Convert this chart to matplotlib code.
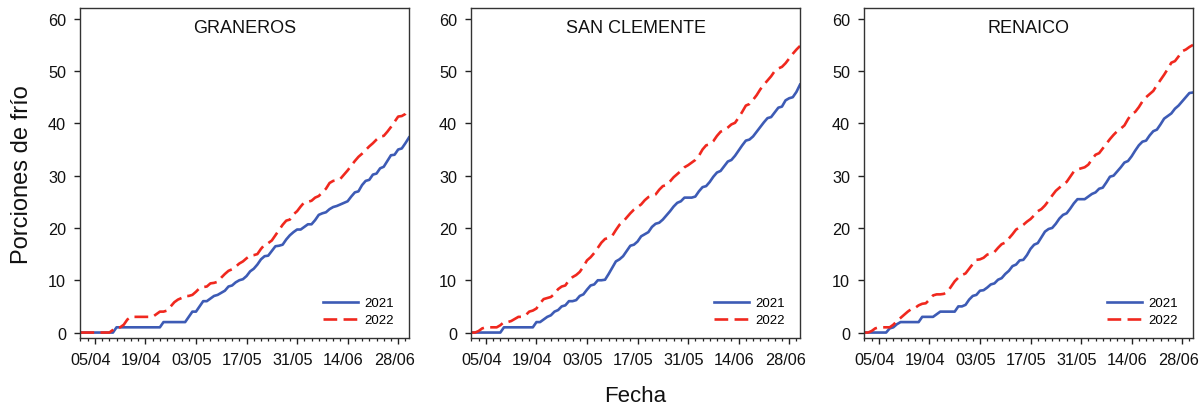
import matplotlib
matplotlib.use("Agg")
import matplotlib.pyplot as plt
import matplotlib.dates as mdates
import matplotlib.transforms as mtransforms
import pandas as pd

plt.rcParams['font.family'] = ['Liberation Sans', 'DejaVu Sans']

dates = pd.date_range('2022-04-01', '2022-07-01', freq='D')
stations = ['GRANEROS', 'SAN CLEMENTE', 'RENAICO']
years = ['2021', '2022']

graneros_2021 = [0]*10 + [1]*13 + [2]*7 + [
    3, 4, 4, 5, 6, 6, 6.5, 7, 7.2, 7.6, 8, 8.8, 9, 9.6, 10, 10.2, 10.8, 11.7, 12.2, 13,
    14, 14.6, 14.7, 15.6, 16.5, 16.6, 16.8, 17.8, 18.6, 19.2, 19.7, 19.7, 20.2, 20.7, 20.7,
    21.5, 22.5, 22.8, 23, 23.6, 24, 24.2, 24.5, 24.8, 25.1, 26, 26.8, 27, 28.2, 29, 29.2,
    30.2, 30.4, 31.4, 31.7, 32.8, 33.9, 34, 35, 35.2, 36.2, 37.3]
graneros_2022 = [0]*9 + [0.5, 1, 1, 1.5, 2.5] + [3]*7 + [
    3.5, 4, 4, 4.2, 5, 5.8, 6.3, 6.6, 7, 7, 7.2, 7.8, 8.5, 8.7, 8.8, 9.4, 9.5, 9.7, 10.5,
    11.2, 11.8, 12.1, 12.6, 13.2, 13.6, 14.2, 14.7, 14.8, 15, 16, 16.8, 17.1, 17.6, 18.6,
    19.6, 20.6, 21.4, 21.6, 22.6, 23.2, 24.1, 24.9, 25, 25.2, 25.8, 26.1, 26.8, 27.5, 28.6,
    29, 29.1, 29.4, 30.2, 31, 31.9, 32.8, 33.6, 34.2, 34.9, 35.6, 36.2, 36.9, 37.5, 37.6,
    38.4, 39.3, 40.3, 41.3, 41.4, 41.8, 42.7]
sanclemente_2021 = [0]*9 + [1]*9 + [
    2, 2, 2.5, 3, 3.3, 4, 4.3, 5, 5.2, 6, 6, 6.2, 7, 7.3, 8.2, 9, 9.2, 10, 10, 10.1, 11.2,
    12.4, 13.6, 14, 14.6, 15.6, 16.6, 16.8, 17.4, 18.4, 18.8, 19.2, 20.2, 20.8, 21, 21.6,
    22.4, 23.2, 24.1, 24.8, 25.1, 25.8, 25.8, 25.8, 26, 27, 27.8, 28, 28.8, 29.8, 30.6,
    30.9, 31.8, 32.7, 33, 33.8, 34.8, 35.8, 36.7, 36.9, 37.5, 38.4, 39.3, 40.2, 41, 41.2,
    42.1, 43, 43.2, 44.4, 44.8, 45, 46, 47.4]
sanclemente_2022 = [0, 0, 0.3, 0.8, 1, 1, 1, 1, 1.4, 2, 2, 2.2, 2.6, 3, 3, 3.3, 4, 4.2,
    4.6, 5.6, 6.4, 6.6, 6.8, 7.4, 8.3, 8.8, 9, 10, 10.6, 11, 11.6, 12.6, 13.8, 14.4, 15.2,
    16.2, 17.2, 17.9, 18.1, 18.5, 19.6, 20.6, 21.2, 22, 22.8, 23.5, 24, 24.5, 25.3, 25.9,
    26.1, 26.4, 27.3, 28, 28.2, 28.9, 29.7, 30.3, 30.9, 31.6, 32, 32.5, 33, 33.8, 35, 35.8,
    36, 36.6, 37.6, 38.4, 38.7, 39.2, 39.8, 40.1, 41.1, 42.2, 43.4, 43.7, 44.5, 45.4, 46.5,
    47.4, 48.2, 49, 50, 50.5, 50.8, 51.5, 52.4, 53.3, 54.1, 54.8]
renaico_2021 = [0]*7 + [0.8, 1, 1.6] + [2]*6 + [3]*4 + [3.5] + [4]*5 + [
    5, 5, 5.3, 6.3, 7, 7.2, 8, 8.1, 8.6, 9.2, 9.4, 10.1, 10.4, 11.2, 11.8, 12.7, 13, 13.8,
    13.9, 14.8, 16, 16.8, 17.1, 18.2, 19.3, 19.8, 20, 20.8, 21.8, 22.5, 22.8, 23.7, 24.7,
    25.5, 25.5, 25.5, 26, 26.5, 26.8, 27.5, 27.7, 28.7, 29.8, 30, 30.8, 31.6, 32.5, 32.8,
    33.7, 34.8, 35.8, 36.5, 36.7, 37.7, 38.5, 38.8, 39.8, 40.9, 41.4, 41.9, 42.8, 43.4,
    44.2, 45, 45.8, 45.9]
renaico_2022 = [0, 0, 0.3, 0.8, 1, 1, 1, 1, 1.5, 2.2, 2.8, 3.4, 4, 4.5, 4.7, 5.2, 5.5,
    5.6, 6.3, 7.1, 7.3, 7.3, 7.4, 7.8, 8.8, 9.8, 10.5, 11, 11.3, 12.2, 13.1, 13.9, 14, 14.3,
    14.9, 15.1, 15.4, 16.2, 16.9, 17.2, 18, 18.8, 19.7, 20.1, 20.6, 21.2, 21.7, 22.4, 23.2,
    23.6, 24.3, 25.2, 26.2, 27.1, 27.7, 28.3, 28.8, 29.8, 30.8, 31.2, 31.4, 31.6, 32.1,
    33.1, 34, 34.3, 35.2, 36.1, 37, 37.8, 38.5, 39, 39.6, 40.8, 41.8, 42.2, 43.1, 44.2, 45,
    45.6, 46.2, 47.3, 48.3, 49.3, 50.4, 51.6, 51.9, 52.8, 53.8, 54.1, 54.6, 55]

series = {
    'GRANEROS': (graneros_2021, graneros_2022),
    'SAN CLEMENTE': (sanclemente_2021, sanclemente_2022),
    'RENAICO': (renaico_2021, renaico_2022),
}

W, H = 1199, 406
fig = plt.figure(figsize=(W/100, H/100), dpi=100)
lefts = [80, 471, 864]
ax_w = 329
ax_top, ax_bot = 9.3, 339.3
ax_h = ax_bot - ax_top

blue = '#3d5bb5'
red = '#f0281e'
txt = '#111111'

for i, name in enumerate(stations):
    ax = fig.add_axes([lefts[i]/W, 1 - ax_bot/H, ax_w/W, ax_h/H])
    y21, y22 = series[name]
    ax.plot(dates, y21, color=blue, lw=1.9, label=years[0])
    ax.plot(dates, y22, color=red, lw=1.9, dashes=(5.2, 2.4), label=years[1])
    ax.set_ylim(-1.1, 62)
    ax.set_xlim(dates[0] - pd.Timedelta(hours=3), dates[-1])
    ax.set_yticks([0, 10, 20, 30, 40, 50, 60])
    ax.xaxis.set_major_locator(matplotlib.ticker.FixedLocator(mdates.date2num(dates[4::14])))
    ax.xaxis.set_minor_locator(matplotlib.ticker.FixedLocator(mdates.date2num(dates[::2])))
    ax.xaxis.set_major_formatter(mdates.DateFormatter('%d/%m'))
    ax.tick_params(axis='both', which='major', labelsize=11.7, length=4, width=1,
                   color='#222222', labelcolor=txt)
    ax.tick_params(axis='y', which='major', pad=6)
    ax.tick_params(axis='x', which='major', pad=6)
    ax.tick_params(axis='x', which='minor', length=2.5, width=0.9, color='#222222')
    for sp in ax.spines.values():
        sp.set_color('#333333')
        sp.set_linewidth(1.0)
    ax.text(0.5, (ax_bot - 28.3)/ax_h, name, transform=ax.transAxes, ha='center',
            va='center', fontsize=13, color=txt)
    ax.legend(loc='lower right', frameon=False, fontsize=9.5, handlelength=2.6,
              handletextpad=0.5, labelspacing=0.35, borderaxespad=0,
              bbox_to_anchor=(1 - 9.9/ax_w, 6.9/ax_h))
    shift = mtransforms.ScaledTranslation(-4/100, 0, fig.dpi_scale_trans)
    for lab in ax.xaxis.get_majorticklabels():
        lab.set_transform(lab.get_transform() + shift)
    if i == 0:
        ax.set_ylabel('Porciones de frío', fontsize=17, color=txt, labelpad=11)

fig.text((lefts[1] + ax_w/2)/W, 1 - 402/H, 'Fecha', ha='center', va='baseline',
         fontsize=16, color=txt)

fig.savefig('out.png', dpi=100)
